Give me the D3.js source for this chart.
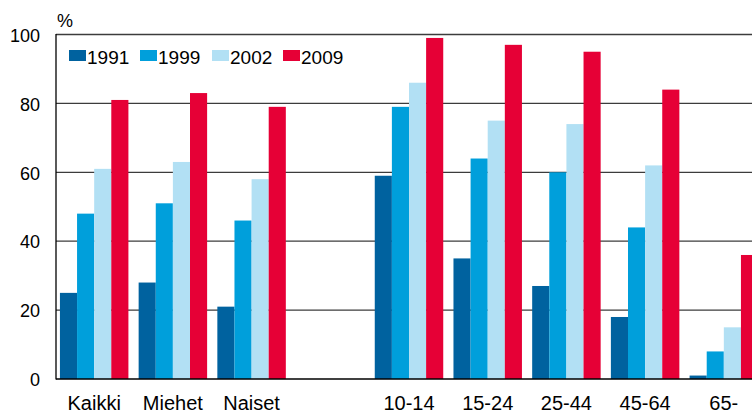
<!DOCTYPE html>
<html>
<head>
<meta charset="utf-8">
<script src="https://cdn.jsdelivr.net/npm/d3@7"></script>
<style>
  html, body { margin: 0; padding: 0; background: #fff; }
  svg { display: block; font-family: "Liberation Sans", Arial, sans-serif; }
</style>
</head>
<body>
<svg id="chart" width="752" height="413"></svg>
<script>
const categories = ["Kaikki", "Miehet", "Naiset", "", "10-14", "15-24", "25-44", "45-64", "65-"];
const seriesNames = ["1991", "1999", "2002", "2009"];
const values1991 = [25, 28, 21, null, 59, 35, 27, 18, 1];
const values1999 = [48, 51, 46, null, 79, 64, 60, 44, 8];
const values2002 = [61, 63, 58, null, 86, 75, 74, 62, 15];
const values2009 = [81, 83, 79, null, 99, 97, 95, 84, 36];
const seriesColors = ["#00629f", "#009fdb", "#b2e0f4", "#e60036"];
const yTicks = [0, 20, 40, 60, 80, 100];

const series = [values1991, values1999, values2002, values2009];

const svg = d3.select("#chart");
const x0 = 56, y0 = 379, yTop = 34.5;

const x = d3.scaleBand().domain(categories).range([x0, 762])
  .paddingInner(0.13).paddingOuter(0.05);
const xs = d3.scaleBand().domain(seriesNames).range([0, x.bandwidth()]).padding(0);
const y = d3.scaleLinear().domain([0, 100]).range([y0, yTop]);

// gridlines
svg.append("g").selectAll("line").data(yTicks.filter(d => d > 0)).join("line")
  .attr("x1", x0).attr("x2", 752)
  .attr("y1", d => y(d)).attr("y2", d => y(d))
  .attr("stroke", "#3c3c3c").attr("stroke-width", 1.3);

// bars
const data = [];
categories.forEach((c, i) => {
  seriesNames.forEach((s, j) => {
    const v = series[j][i];
    if (v != null) data.push({ c, s, v, j });
  });
});
svg.append("g").selectAll("rect").data(data).join("rect")
  .attr("x", d => x(d.c) + xs(d.s))
  .attr("width", xs.bandwidth())
  .attr("y", d => y(d.v))
  .attr("height", d => y(0) - y(d.v))
  .attr("fill", d => seriesColors[d.j]);

// axes lines
svg.append("line").attr("x1", x0).attr("x2", 752).attr("y1", y0).attr("y2", y0)
  .attr("stroke", "#000").attr("stroke-width", 1.3);
svg.append("line").attr("x1", x0).attr("x2", x0).attr("y1", yTop - 0.6).attr("y2", y0 + 0.6)
  .attr("stroke", "#000").attr("stroke-width", 1.3);

// y tick labels
svg.append("g").selectAll("text").data(yTicks).join("text")
  .attr("x", 40).attr("y", d => y(d)).attr("dy", "0.4em")
  .attr("text-anchor", "end").attr("font-size", 18).attr("fill", "#000")
  .text(d => d);

svg.append("text").attr("x", 57).attr("y", 27).attr("font-size", 18).text("%");

// category labels
svg.append("g").selectAll("text").data(categories.filter(c => c !== "")).join("text")
  .attr("x", d => x(d) + x.bandwidth() / 2).attr("y", 410)
  .attr("text-anchor", "middle").attr("font-size", 20).attr("fill", "#000")
  .text(d => d);

// legend
const legendX = [69, 140, 212, 283];
const lg = svg.append("g").selectAll("g").data(seriesNames).join("g");
lg.append("rect").attr("x", (d, i) => legendX[i]).attr("y", 50).attr("width", 17).attr("height", 11)
  .attr("fill", (d, i) => seriesColors[i]);
lg.append("text").attr("x", (d, i) => legendX[i] + 18).attr("y", 64)
  .attr("font-size", 19).attr("fill", "#000").text(d => d);
</script>
</body>
</html>
